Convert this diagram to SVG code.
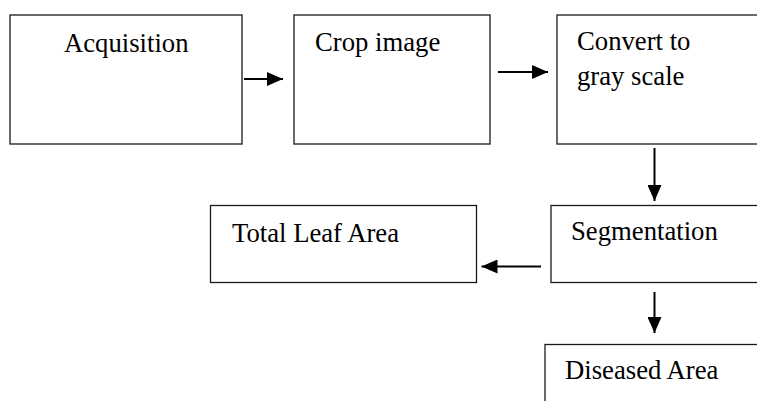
<svg xmlns="http://www.w3.org/2000/svg" width="757" height="401" viewBox="0 0 757 401">
<style>
.box{fill:#fff;stroke:#1a1a1a;stroke-width:1.3}
.lbl{font-family:"Liberation Serif","Times New Roman",serif;font-size:26.7px;fill:#000}
.arr{stroke:#000;stroke-width:2;fill:none;marker-end:url(#ah)}
</style>
<defs>
<marker id="ah" markerUnits="userSpaceOnUse" markerWidth="16" markerHeight="14" viewBox="0 0 16 14" refX="16" refY="7" orient="auto">
<path d="M0,0 L16,7 L0,14 z" fill="#000"/>
</marker>
</defs>
<rect width="757" height="401" fill="#fff"/>
<g id="acquisition">
<rect class="box" x="10" y="15" width="232" height="129"/>
<text class="lbl" x="64" y="52">Acquisition</text>
</g>
<g id="crop">
<rect class="box" x="294" y="15" width="196" height="129"/>
<text class="lbl" x="315" y="51">Crop image</text>
</g>
<g id="convert">
<rect class="box" x="557" y="15" width="220" height="129"/>
<text class="lbl" x="577" y="50">Convert to</text>
<text class="lbl" x="577" y="85">gray scale</text>
</g>
<g id="segmentation">
<rect class="box" x="551" y="205.5" width="220" height="77"/>
<text class="lbl" x="571" y="240">Segmentation</text>
</g>
<g id="total">
<rect class="box" x="210.5" y="205.5" width="266" height="77"/>
<text class="lbl" x="232" y="242">Total Leaf Area</text>
</g>
<g id="diseased">
<rect class="box" x="545" y="344.5" width="230" height="80"/>
<text class="lbl" x="565" y="379">Diseased Area</text>
</g>
<g id="connectors">
<line class="arr" x1="244" y1="79" x2="283" y2="79"/>
<line class="arr" x1="498" y1="72" x2="548" y2="72"/>
<line class="arr" x1="654.5" y1="148" x2="654.5" y2="201"/>
<line class="arr" x1="541" y1="266.5" x2="481.5" y2="266.5"/>
<line class="arr" x1="654.5" y1="292" x2="654.5" y2="333"/>
</g>
</svg>
